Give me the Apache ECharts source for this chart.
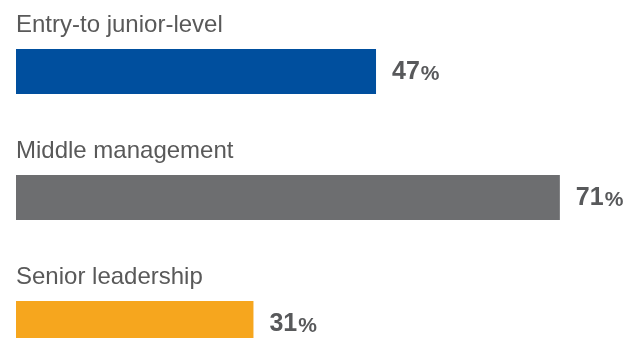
<!DOCTYPE html>
<html>
<head>
<meta charset="utf-8">
<script src="https://cdn.jsdelivr.net/npm/echarts@6/dist/echarts.min.js"></script>
<style>
  html, body { margin: 0; padding: 0; background: #ffffff; }
  #chart { width: 635px; height: 338px; }
</style>
</head>
<body>
<div id="chart"></div>
<script>
// Share of respondents by career level
const categories = ['Entry-to junior-level', 'Middle management', 'Senior leadership'];
const shares = [47, 71, 31];
const barColors = ['#004f9e', '#6d6e70', '#f6a61e'];

const chart = echarts.init(document.getElementById('chart'), null, { renderer: 'canvas' });

chart.setOption({
  animation: false,
  backgroundColor: '#ffffff',
  grid: {
    left: 16, top: 8.5, width: 766, height: 378,
    containLabel: false,
    outerBoundsMode: 'none'
  },
  xAxis: {
    type: 'value', min: 0, max: 100, show: false
  },
  yAxis: {
    type: 'category',
    data: categories,
    inverse: true,
    axisLine: { show: false },
    axisTick: { show: false },
    splitLine: { show: false },
    axisLabel: {
      inside: true,
      margin: 0,
      align: 'left',
      verticalAlign: 'bottom',
      lineHeight: 24,
      padding: [0, 0, 34, 0],
      fontFamily: 'Liberation Sans, Arial, sans-serif',
      fontSize: 24,
      color: '#595959'
    }
  },
  series: [{
    type: 'bar',
    barWidth: 45,
    data: shares.map((v, i) => ({ value: v, itemStyle: { color: barColors[i] } })),
    label: {
      show: true,
      position: 'right',
      distance: 16,
      formatter: '{v|{c}}{p|%}',
      rich: {
        v: {
          fontFamily: 'Liberation Sans, Arial, sans-serif',
          fontSize: 25, fontWeight: 'bold', color: '#58595b',
          lineHeight: 26, verticalAlign: 'bottom'
        },
        p: {
          fontFamily: 'Liberation Sans, Arial, sans-serif',
          fontSize: 21, fontWeight: 'bold', color: '#58595b',
          lineHeight: 26, verticalAlign: 'bottom', padding: [0, 0, 0, 1]
        }
      }
    }
  }]
});
</script>
</body>
</html>
